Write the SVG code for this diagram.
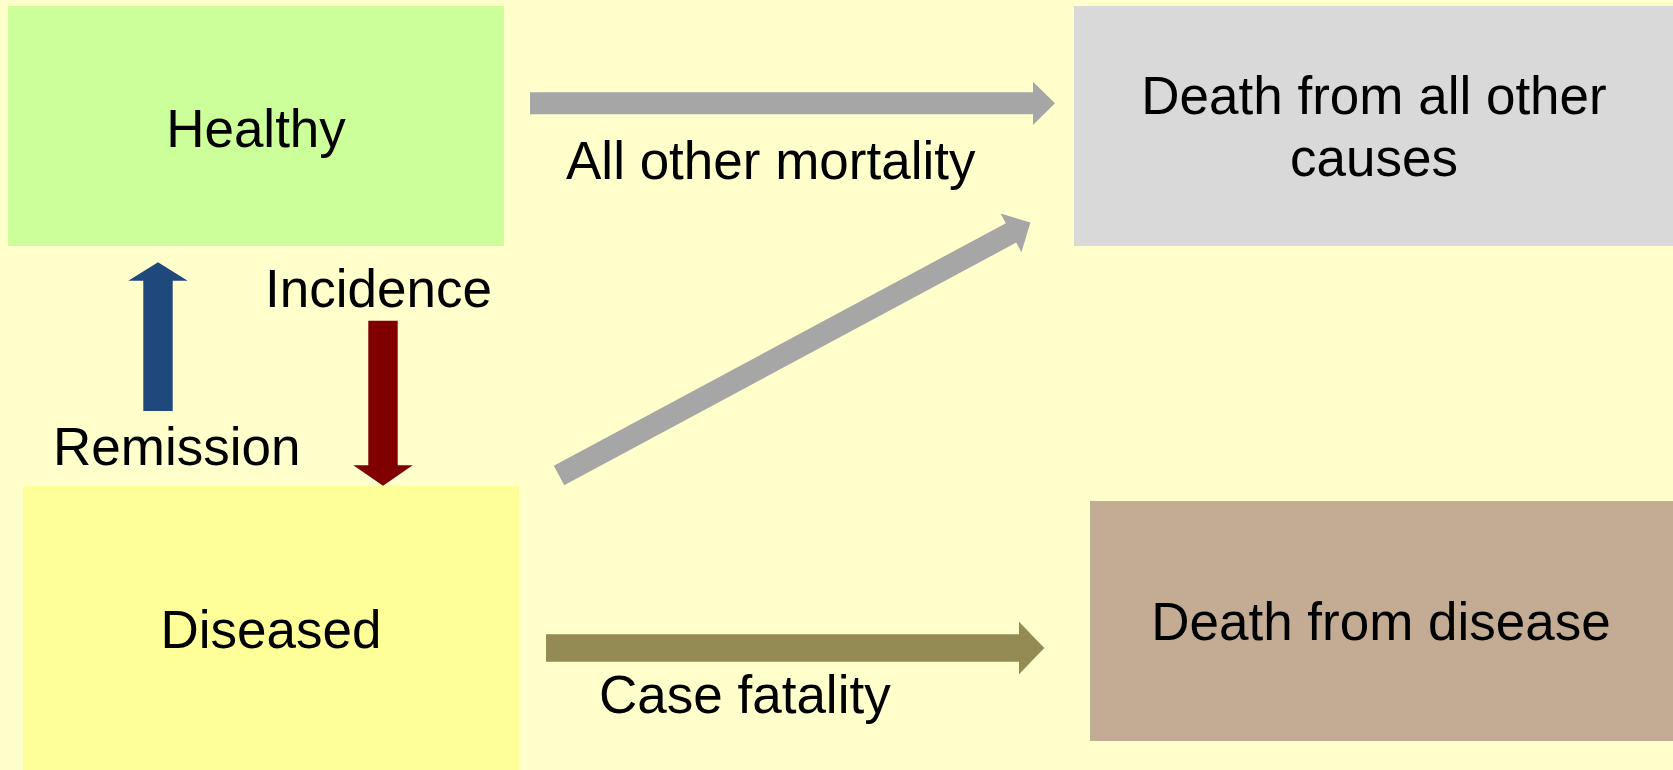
<svg xmlns="http://www.w3.org/2000/svg" width="1673" height="770" viewBox="0 0 1673 770">
<style>
text{font-family:"Liberation Sans",Arial,sans-serif;font-size:53px;fill:#000}
.c{text-anchor:middle}
</style>
<rect x="0" y="0" width="1673" height="770" fill="#FFFFCC"/>
<g id="healthy">
<rect x="8" y="6" width="496" height="240" fill="#CCFF99"/>
<text class="c" x="256" y="147">Healthy</text>
</g>
<g id="diseased">
<rect x="23" y="486" width="496" height="284" fill="#FFFF99"/>
<text class="c" x="271" y="648">Diseased</text>
</g>
<g id="death-other">
<rect x="1074" y="6" width="599" height="240" fill="#D9D9D9"/>
<text class="c" x="1374" y="114">Death from all other</text>
<text class="c" x="1374" y="176">causes</text>
</g>
<g id="death-disease">
<rect x="1090" y="501" width="583" height="240" fill="#C4AC94"/>
<text class="c" x="1381" y="640">Death from disease</text>
</g>
<g id="connectors">
<polygon fill="#A6A6A6" points="530,92.3 1033,92.3 1033,81.7 1055,103.3 1033,125 1033,114.3 530,114.3"/>
<polygon fill="#A6A6A6" transform="translate(559,475.5) rotate(-28.22)" points="0,-11 513,-11 513,-22 535,0 513,22 513,11 0,11"/>
<polygon fill="#948A54" points="546,634.3 1019,634.3 1019,621.7 1044.3,648 1019,674.3 1019,661.7 546,661.7"/>
<polygon fill="#1F497D" points="143.3,411 143.3,280.7 128.3,280.7 158,262.3 187.7,280.7 172.7,280.7 172.7,411"/>
<polygon fill="#800000" points="368.3,320.7 397.7,320.7 397.7,465.3 412.7,465.3 383,485.7 353.3,465.3 368.3,465.3"/>
<text x="566" y="179">All other mortality</text>
<text x="265" y="307">Incidence</text>
<text x="53" y="465">Remission</text>
<text x="599" y="713">Case fatality</text>
</g>
</svg>
